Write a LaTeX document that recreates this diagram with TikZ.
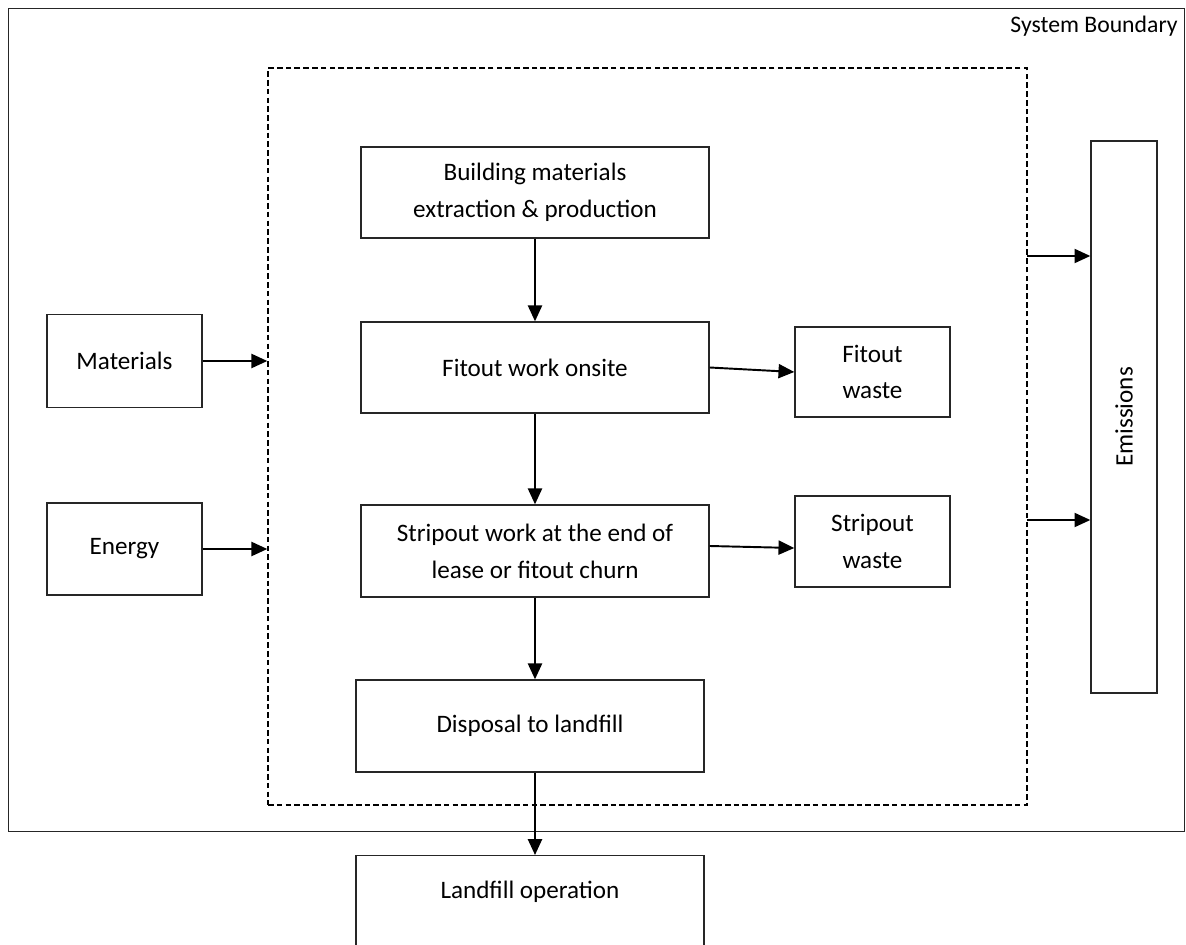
\documentclass[tikz,border=0pt]{standalone}
\usepackage{fontspec}
\setmainfont{Carlito}
\usepackage{tikz}
\usetikzlibrary{arrows.meta,positioning}
\tikzset{
  caja/.style={draw=black!85,line width=0.8pt,fill=white,align=center,inner sep=2pt,
    font=\fontsize{14.3}{21}\selectfont},
  limite/.style={draw=black!85,line width=0.6pt},
  frontera/.style={draw=black,line width=0.9pt,dash pattern=on 3.2pt off 1.8pt},
  flecha/.style={-{Triangle[length=9pt,width=8pt]},line width=1.1pt}
}

\begin{document}
\begin{tikzpicture}[x=0.02cm,y=-0.02cm]
\useasboundingbox (0,0) rectangle (1186,945);
\clip (0,0) rectangle (1186,945);
% limites del sistema
\node[limite,minimum width=23.54cm,minimum height=16.48cm] (sistema) at (596.5,420) {};
\node[anchor=north east,font=\fontsize{13.5}{15}\selectfont,inner sep=0pt] (rotulo) at (1178,16) {System Boundary};
\node[frontera,minimum width=15.18cm,minimum height=14.74cm] (interno) at (647.5,436.5) {};
% procesos
\node[caja,minimum width=6.96cm,minimum height=1.82cm] (extraccion) at (535,192.5) {Building materials\\extraction \& production};
\node[caja,minimum width=6.96cm,minimum height=1.82cm] (fitout) at (535,367.5) {Fitout work onsite};
\node[caja,minimum width=3.1cm,minimum height=1.8cm] (fwaste) at (872.5,372) {Fitout\\waste};
\node[caja,minimum width=6.96cm,minimum height=1.84cm] (stripout) at (535,551) {Stripout work at the end of\\lease or fitout churn};
\node[caja,minimum width=3.1cm,minimum height=1.82cm] (swaste) at (872.5,541.5) {Stripout\\waste};
\node[caja,minimum width=6.96cm,minimum height=1.84cm] (disposal) at (530,726) {Disposal to landfill};
\node[caja,minimum width=6.96cm,minimum height=3cm,anchor=north] (landfill) at (530,855) {};
\node[font=\fontsize{14.3}{21}\selectfont] (landfilltxt) at (530,892) {Landfill operation};
% entradas y salidas
\node[caja,minimum width=3.1cm,minimum height=1.86cm] (materiales) at (124.5,361) {Materials};
\node[caja,minimum width=3.1cm,minimum height=1.84cm] (energia) at (124.5,549) {Energy};
\node[caja,minimum width=1.32cm,minimum height=11.04cm] (emisiones) at (1124,417) {};
\node[rotate=90,font=\fontsize{14.3}{21}\selectfont] (emistxt) at (emisiones.center) {Emissions};
\coordinate (e1) at (1027,256);
\coordinate (e2) at (1027,520);
% flechas
\draw[flecha] (extraccion) -- (fitout);
\draw[flecha] (fitout) -- (stripout);
\draw[flecha] (stripout.south) -- (stripout.south |- disposal.north);
\draw[flecha] (disposal.south -| stripout.south) -- (landfill.north -| stripout.south);
\draw[flecha] (fitout.east) -- (fwaste.west);
\draw[flecha] (stripout.east) ++(0,-5) -- (swaste.west |- 0,548);
\draw[flecha] (materiales) -- (materiales -| interno.west);
\draw[flecha] (energia) -- (energia -| interno.west);
\draw[flecha] (e1) -- (e1 -| emisiones.west);
\draw[flecha] (e2) -- (e2 -| emisiones.west);
\end{tikzpicture}
\end{document}
